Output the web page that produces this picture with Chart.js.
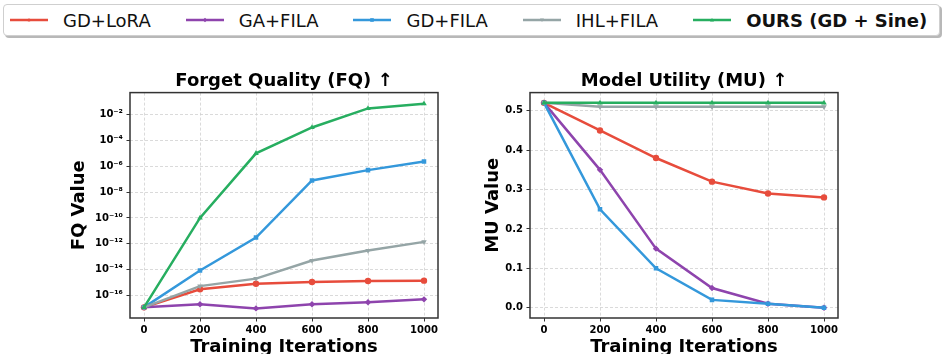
<!DOCTYPE html>
<html>
<head>
<meta charset="utf-8">
<script src="https://cdn.jsdelivr.net/npm/chart.js@4.4.0/dist/chart.umd.min.js"></script>
<style>
  html, body { margin: 0; padding: 0; background: #fff; }
  body { width: 943px; height: 354px; position: relative; overflow: hidden; font-family: "DejaVu Sans", sans-serif; }
  #fq { position: absolute; left: 0; top: 0; }
  #mu { position: absolute; left: 470px; top: 0; }
  .legend {
    position: absolute; left: 3px; top: 4px; width: 937px; height: 32px;
    box-sizing: border-box; border: 1px solid #cfcfcf; border-radius: 4px; background: #fff;
    box-shadow: 2px 2px 0 rgba(0,0,0,0.28);
    display: flex; align-items: center; padding-left: 6px;
  }
  .item { display: flex; align-items: center; margin-right: 35px; font-size: 18px; color: #111; white-space: nowrap; }
  .item svg { margin-right: 15px; }
  .item.bold { font-weight: bold; }
</style>
</head>
<body>
<div class="legend" id="legend"></div>
<canvas id="fq" width="470" height="354"></canvas>
<canvas id="mu" width="473" height="354"></canvas>
<script>
// ── data ─────────────────────────────────────
const ITERS = [0, 200, 400, 600, 800, 1000];
const SERIES = ['GD+LoRA', 'GA+FILA', 'GD+FILA', 'IHL+FILA', 'OURS (GD + Sine)'];
const COLORS = ['#e74c3c', '#8e44ad', '#3498db', '#95a5a6', '#27ae60'];
const MARKERS = ['circle', 'rectRot', 'rect', 'triangle', 'triangle'];
const MARKER_ROT = [0, 0, 0, 180, 0];

// Forget Quality (log scale)
const FQ_GD_LORA  = [1.2e-17, 3e-16, 8e-16, 1.1e-15, 1.3e-15, 1.4e-15];
const FQ_GA_FILA  = [1.2e-17, 2.1e-17, 1e-17, 2.1e-17, 3e-17, 5e-17];
const FQ_GD_FILA  = [1.2e-17, 8.5e-15, 3e-12, 8e-8, 5e-7, 2.3e-6];
const FQ_IHL_FILA = [1.2e-17, 5.3e-16, 2e-15, 5e-14, 3e-13, 1.4e-12];
const FQ_OURS     = [1.2e-17, 1e-10, 1e-5, 1e-3, 3e-2, 7e-2];

// Model Utility
const MU_GD_LORA  = [0.52, 0.45, 0.38, 0.32, 0.29, 0.28];
const MU_GA_FILA  = [0.52, 0.35, 0.15, 0.05, 0.01, 0.0];
const MU_GD_FILA  = [0.52, 0.25, 0.10, 0.02, 0.01, 0.0];
const MU_IHL_FILA = [0.52, 0.51, 0.51, 0.51, 0.51, 0.51];
const MU_OURS     = [0.52, 0.52, 0.52, 0.52, 0.52, 0.52];

const X_TICKS = [0, 200, 400, 600, 800, 1000];
const FQ_TICKS = [1e-16, 1e-14, 1e-12, 1e-10, 1e-8, 1e-6, 1e-4, 1e-2];
const MU_TICKS = [0.0, 0.1, 0.2, 0.3, 0.4, 0.5];

// ── helpers ──────────────────────────────────
const SUP = { '-': '\u207B', '0': '\u2070', '1': '\u00B9', '2': '\u00B2', '3': '\u00B3', '4': '\u2074',
              '5': '\u2075', '6': '\u2076', '7': '\u2077', '8': '\u2078', '9': '\u2079' };
const pow10 = v => '10' + String(Math.round(Math.log10(v))).split('').map(c => SUP[c]).join('');

const tickFont = { family: 'DejaVu Sans', size: 10, weight: 'bold' };
const labelFont = { family: 'DejaVu Sans', size: 18, weight: 'bold' };

const framePlugin = {
  id: 'frame',
  afterDatasetsDraw(chart) {
    const a = chart.chartArea, ctx = chart.ctx;
    ctx.save();
    ctx.strokeStyle = '#333';
    ctx.lineWidth = 1.5;
    ctx.strokeRect(a.left, a.top, a.right - a.left, a.bottom - a.top);
    ctx.restore();
  },
};

function datasets(groups) {
  return groups.map((vals, i) => ({
    label: SERIES[i],
    data: ITERS.map((x, j) => ({ x, y: vals[j] })),
    borderColor: COLORS[i],
    backgroundColor: COLORS[i],
    borderWidth: 2.5,
    pointStyle: MARKERS[i],
    rotation: MARKER_ROT[i],
    pointRadius: 3.2,
    pointBorderWidth: 0,
    order: groups.length - i,
    tension: 0,
  }));
}

function makeChart(el, cfg) {
  return new Chart(el, {
    type: 'line',
    data: { datasets: datasets(cfg.groups) },
    options: {
      responsive: false, animation: false, devicePixelRatio: 1,
      layout: { padding: { left: 0, right: cfg.padRight, top: 0, bottom: 0 } },
      plugins: {
        legend: { display: false },
        tooltip: { enabled: false },
        title: {
          display: true, text: cfg.title, fullSize: false, color: '#000',
          font: labelFont, padding: { top: 71, bottom: 0 },
        },
      },
      scales: {
        x: {
          type: 'linear', min: -50, max: 1050,
          afterBuildTicks: s => { s.ticks = X_TICKS.map(v => ({ value: v })); },
          afterFit: s => { s.height = 36; },
          grid: { color: '#d0d0d0', lineWidth: 0.8, tickLength: 3.5, tickColor: '#333', tickWidth: 1 },
          border: { display: false, dash: [3, 2] },
          ticks: { font: tickFont, color: '#000', padding: 3, maxRotation: 0, callback: v => String(v) },
          title: { display: true, text: 'Training Iterations', font: labelFont, color: '#000', padding: { top: 0, bottom: -4.5 } },
        },
        y: {
          type: cfg.yType, min: cfg.yMin, max: cfg.yMax,
          afterBuildTicks: s => { s.ticks = cfg.yTicks.map(v => ({ value: v })); },
          afterFit: s => { s.width = cfg.yWidth; },
          grid: { color: '#d0d0d0', lineWidth: 0.8, tickLength: 3.5, tickColor: '#333', tickWidth: 1 },
          border: { display: false, dash: [3, 2] },
          ticks: { font: tickFont, color: '#000', padding: 3.5, callback: cfg.yFmt },
          title: { display: true, text: cfg.yTitle, font: labelFont, color: '#000', padding: { top: cfg.yTitlePad, bottom: 0 } },
        },
      },
    },
    plugins: [framePlugin],
  });
}

makeChart(document.getElementById('fq'), {
  title: 'Forget Quality (FQ) \u2191',
  groups: [FQ_GD_LORA, FQ_GA_FILA, FQ_GD_FILA, FQ_IHL_FILA, FQ_OURS],
  yType: 'logarithmic', yMin: 1.8e-18, yMax: 0.5, yTicks: FQ_TICKS,
  yFmt: v => pow10(v), yTitle: 'FQ Value', yWidth: 130, yTitlePad: 69, padRight: 32,
});

makeChart(document.getElementById('mu'), {
  title: 'Model Utility (MU) \u2191',
  groups: [MU_GD_LORA, MU_GA_FILA, MU_GD_FILA, MU_IHL_FILA, MU_OURS],
  yType: 'linear', yMin: -0.026, yMax: 0.546, yTicks: MU_TICKS,
  yFmt: v => Number(v).toFixed(1), yTitle: 'MU Value', yWidth: 60, yTitlePad: 13, padRight: 105,
});

// ── legend ───────────────────────────────────
function markerSvg(i) {
  const c = COLORS[i];
  const m = MARKERS[i];
  let mark = '';
  if (m === 'circle') mark = `<circle cx="19" cy="5" r="1.6" fill="${c}"/>`;
  else if (m === 'rect') mark = `<rect x="17.2" y="3.2" width="3.6" height="3.6" fill="${c}"/>`;
  else if (m === 'rectRot') mark = `<polygon points="19,2.8 21.2,5 19,7.2 16.8,5" fill="${c}"/>`;
  else if (MARKER_ROT[i] === 180) mark = `<polygon points="17,3.5 21,3.5 19,7" fill="${c}"/>`;
  else mark = `<polygon points="17,6.5 21,6.5 19,3" fill="${c}"/>`;
  return `<svg width="38" height="10" viewBox="0 0 38 10"><line x1="0" y1="5" x2="38" y2="5" stroke="${c}" stroke-width="2.5"/>${mark}</svg>`;
}
document.getElementById('legend').innerHTML = SERIES.map((name, i) =>
  `<div class="item${i === SERIES.length - 1 ? ' bold' : ''}">${markerSvg(i)}<span>${name}</span></div>`
).join('');
</script>
</body>
</html>
